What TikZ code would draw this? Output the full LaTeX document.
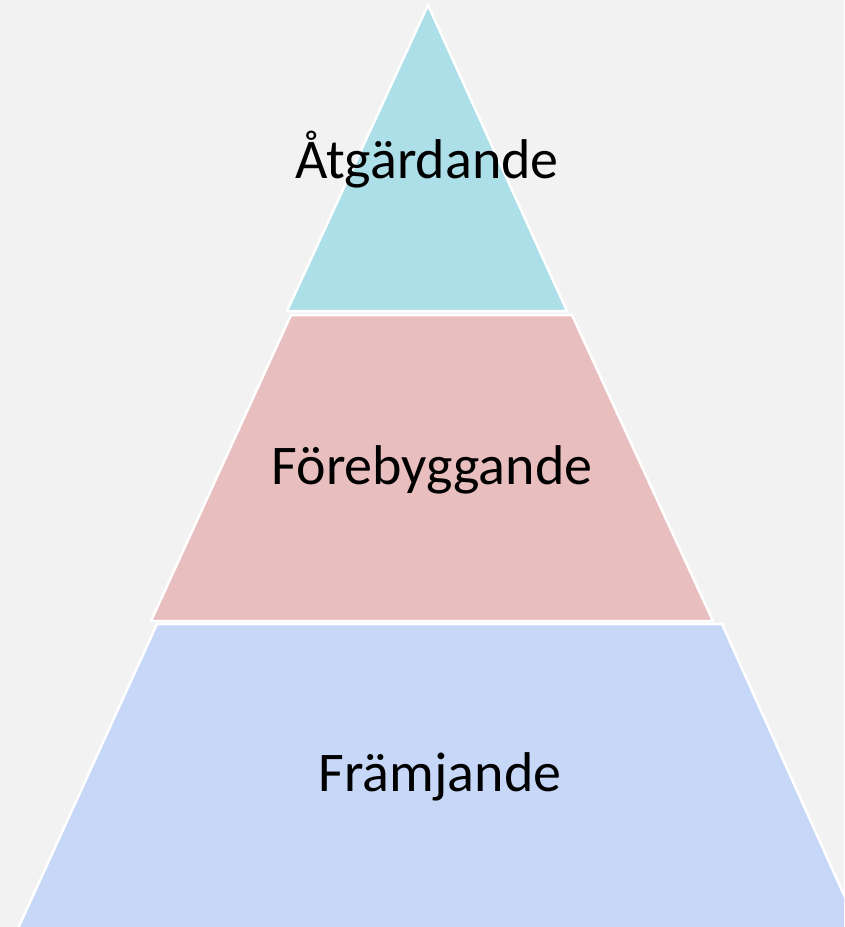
\documentclass[tikz,border=0pt]{standalone}
\usepackage{fontspec}
\setmainfont{Carlito}
\definecolor{bg}{HTML}{F2F2F2}
\definecolor{topfill}{HTML}{ADDFE9}
\definecolor{midfill}{HTML}{E8BEBE}
\definecolor{botfill}{HTML}{C6D7F7}
\begin{document}
\begin{tikzpicture}[x=1pt,y=-1pt,
  layer/.style={draw=white,line width=2.5pt,line join=miter},
  label/.style={font=\fontsize{56}{62}\selectfont,text=black,inner sep=0pt}]
\fill[bg] (0,0) rectangle (844,927);
\useasboundingbox (0,0) rectangle (844,927);
\begin{scope}
\clip (0,0) rectangle (844,927);
\draw[layer,fill=topfill] (428,5) -- (567,311) -- (287,311) -- cycle;
\draw[layer,fill=midfill] (291,315) -- (572,315) -- (713,621) -- (151,621) -- cycle;
\draw[layer,fill=botfill] (157,624) -- (722,624) -- (862,935) -- (15,935) -- cycle;
\end{scope}
\node[label] (a) at (427,160) {Åtgärdande};
\node[label] (b) at (432,470) {Förebyggande};
\node[label] (c) at (440,777) {Främjande};
\end{tikzpicture}
\end{document}
